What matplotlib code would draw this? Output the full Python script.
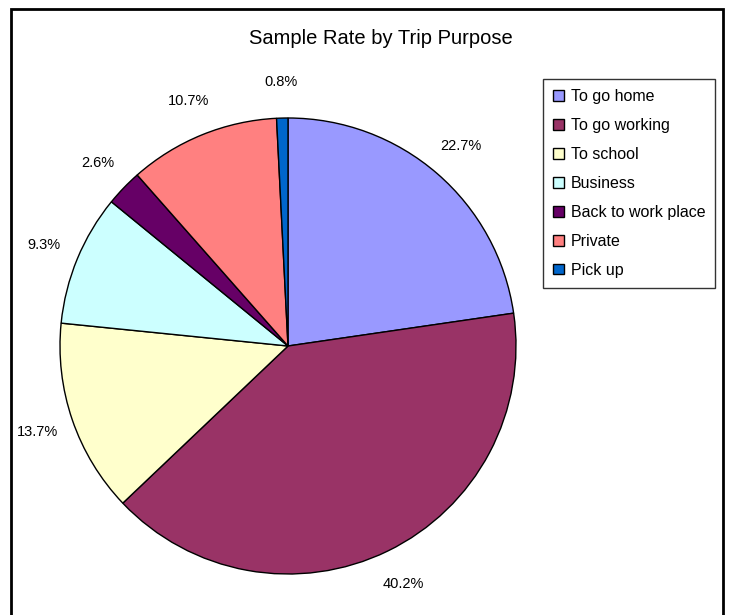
import matplotlib.pyplot as plt
from matplotlib.patches import Rectangle

plt.rcParams['font.family'] = ['Liberation Sans', 'DejaVu Sans']

# Trip purpose shares (%)
purposes = ['To go home', 'To go working', 'To school', 'Business',
            'Back to work place', 'Private', 'Pick up']
shares = [22.7, 40.2, 13.7, 9.3, 2.6, 10.7, 0.8]
colors = ['#9999FF', '#993366', '#FFFFCC', '#CCFFFF',
          '#660066', '#FF8080', '#0066CC']

W, H = 729, 615
fig = plt.figure(figsize=(W / 100, H / 100), dpi=100)

# pie centre ~ (288, 346) px, radius ~ 228 px
cx, cy, r = 288, 346, 228
ax = fig.add_axes([(cx - r) / W, (H - cy - r) / H, 2 * r / W, 2 * r / H])
wedges, texts, autotexts = ax.pie(
    shares, colors=colors, startangle=90, counterclock=False,
    autopct='%.1f%%', pctdistance=1.16,
    wedgeprops=dict(edgecolor='black', linewidth=1.0),
    textprops=dict(fontsize=10.5))
ax.set_xlim(-1, 1)
ax.set_ylim(-1, 1)
ax.set_aspect('equal')

fig.text(381 / W, 1 - 38 / H, 'Sample Rate by Trip Purpose',
         ha='center', va='center', fontsize=14.5)

leg = fig.legend(wedges, purposes, loc='upper left', mode='expand',
                 bbox_to_anchor=(543 / W, 1 - 288 / H, 172 / W, 209 / H),
                 fontsize=11.5, frameon=True, fancybox=False,
                 edgecolor='black', handlelength=0.65, handleheight=0.65,
                 handletextpad=0.45, labelspacing=0.87, borderpad=0.65,
                 borderaxespad=0)
leg.get_frame().set_linewidth(1.0)

# outer chart border (bottom cut off in the reference)
fig.add_artist(Rectangle((11 / W, -0.05), (723 - 11) / W, 1.05 - 9 / H,
                         transform=fig.transFigure, fill=False,
                         edgecolor='black', linewidth=2))

fig.savefig('out.png', dpi=100)
